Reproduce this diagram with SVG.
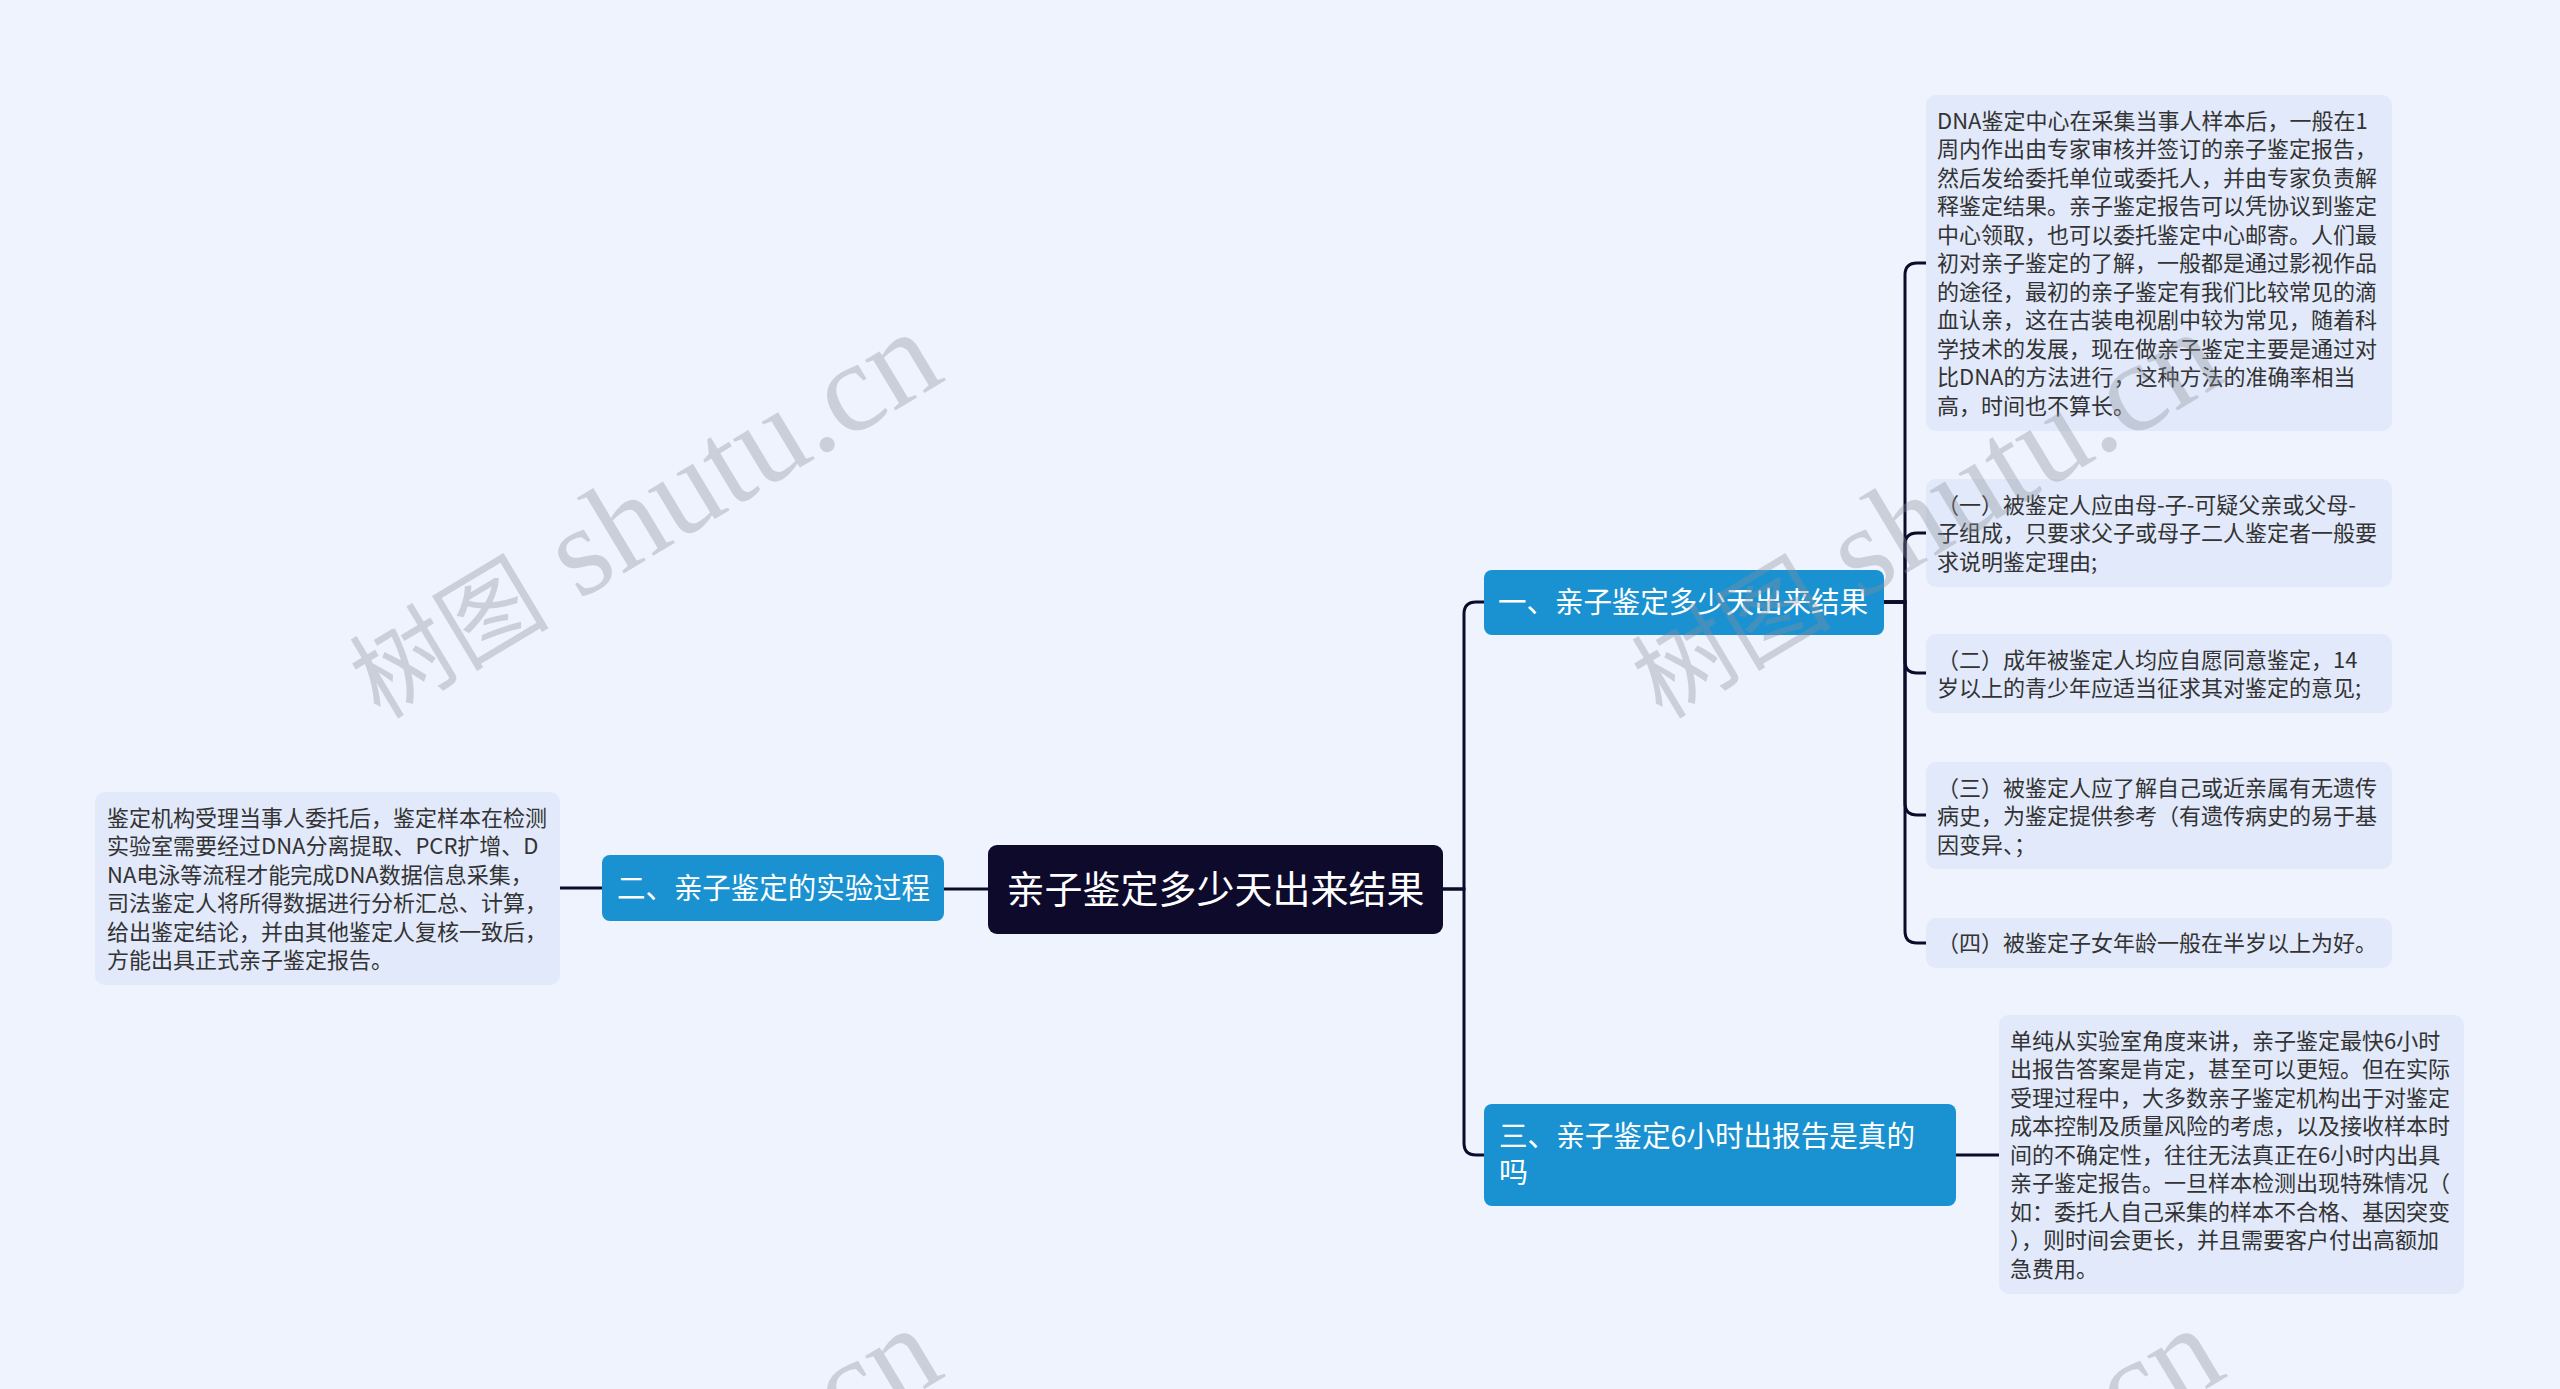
<svg xmlns="http://www.w3.org/2000/svg" width="2560" height="1389" viewBox="0 0 2560 1389">
<style>
.bg{fill:#eef3fe}
.root{fill:#0d0a2c}
.br{fill:#1a92d1}
.leaf{fill:#e1e9fa}
.rt{font-family:"Noto Sans CJK SC","Noto Sans",sans-serif;font-size:38px;fill:#ffffff}
.bt{font-family:"Noto Sans CJK SC","Noto Sans",sans-serif;font-size:29px;fill:#ffffff}
.lt{font-family:"Noto Sans CJK SC","Noto Sans",sans-serif;font-size:22px;fill:#333333}
.con{fill:none;stroke:#0d0b2a;stroke-width:3;stroke-linecap:round}
.wm{font-family:"Liberation Serif","Noto Sans CJK SC",serif;fill:#8a8f99;opacity:0.35}
</style>
<rect class="bg" x="0" y="0" width="2560" height="1389"/>

<g id="connectors">
<path class="con" d="M1443,889 H1464 V614 Q1464,602 1476,602 H1484"/>
<path class="con" d="M1443,889 H1464 V1143 Q1464,1155 1476,1155 H1484"/>
<path class="con" d="M988,889 H944"/>
<path class="con" d="M602,888 H560"/>
<path class="con" d="M1884,602 H1905 V275 Q1905,263 1917,263 H1926"/>
<path class="con" d="M1884,602 H1905 V545 Q1905,533 1917,533 H1926"/>
<path class="con" d="M1884,602 H1905 V661 Q1905,673 1917,673 H1926"/>
<path class="con" d="M1884,602 H1905 V803 Q1905,815 1917,815 H1926"/>
<path class="con" d="M1884,602 H1905 V931 Q1905,943 1917,943 H1926"/>
<path class="con" d="M1956,1155 H1999"/>
</g>

<g id="root">
<rect class="root" x="988" y="845" width="455" height="89" rx="9"/>
<text class="rt" x="1215.5" y="903" text-anchor="middle">亲子鉴定多少天出来结果</text>
</g>

<g id="branch1">
<rect class="br" x="1484" y="570" width="400" height="65" rx="8"/>
<text class="bt" x="1498" y="613" textLength="370" lengthAdjust="spacingAndGlyphs">一、亲子鉴定多少天出来结果</text>
</g>

<g id="branch2">
<rect class="br" x="602" y="855" width="342" height="66" rx="8"/>
<text class="bt" x="617" y="899" textLength="313" lengthAdjust="spacingAndGlyphs">二、亲子鉴定的实验过程</text>
</g>

<g id="branch3">
<rect class="br" x="1484" y="1104" width="472" height="102" rx="8"/>
<text class="bt" x="1499" y="1147" textLength="416" lengthAdjust="spacingAndGlyphs">三、亲子鉴定6小时出报告是真的</text>
<text class="bt" x="1499" y="1183">吗</text>
</g>

<g id="leaf1">
<rect class="leaf" x="1926" y="95" width="466" height="336" rx="10"/>
<text class="lt" x="1937" y="128.5">DNA鉴定中心在采集当事人样本后，一般在1</text>
<text class="lt" x="1937" y="157">周内作出由专家审核并签订的亲子鉴定报告，</text>
<text class="lt" x="1937" y="185.5">然后发给委托单位或委托人，并由专家负责解</text>
<text class="lt" x="1937" y="214">释鉴定结果。亲子鉴定报告可以凭协议到鉴定</text>
<text class="lt" x="1937" y="242.5">中心领取，也可以委托鉴定中心邮寄。人们最</text>
<text class="lt" x="1937" y="271">初对亲子鉴定的了解，一般都是通过影视作品</text>
<text class="lt" x="1937" y="299.5">的途径，最初的亲子鉴定有我们比较常见的滴</text>
<text class="lt" x="1937" y="328">血认亲，这在古装电视剧中较为常见，随着科</text>
<text class="lt" x="1937" y="356.5">学技术的发展，现在做亲子鉴定主要是通过对</text>
<text class="lt" x="1937" y="385">比DNA的方法进行，这种方法的准确率相当</text>
<text class="lt" x="1937" y="413.5">高，时间也不算长。</text>
</g>

<g id="leaf2">
<rect class="leaf" x="1926" y="479" width="466" height="108" rx="10"/>
<text class="lt" x="1937" y="512.5">（一）被鉴定人应由母-子-可疑父亲或父母-</text>
<text class="lt" x="1937" y="541">子组成，只要求父子或母子二人鉴定者一般要</text>
<text class="lt" x="1937" y="569.5">求说明鉴定理由;</text>
</g>

<g id="leaf3">
<rect class="leaf" x="1926" y="634" width="466" height="79" rx="10"/>
<text class="lt" x="1937" y="667.5">（二）成年被鉴定人均应自愿同意鉴定，14</text>
<text class="lt" x="1937" y="696">岁以上的青少年应适当征求其对鉴定的意见;</text>
</g>

<g id="leaf4">
<rect class="leaf" x="1926" y="762" width="466" height="107" rx="10"/>
<text class="lt" x="1937" y="795.5">（三）被鉴定人应了解自己或近亲属有无遗传</text>
<text class="lt" x="1937" y="824">病史，为鉴定提供参考（有遗传病史的易于基</text>
<text class="lt" x="1937" y="852.5">因变异、；</text>
</g>

<g id="leaf5">
<rect class="leaf" x="1926" y="918" width="466" height="50" rx="10"/>
<text class="lt" x="1937" y="951">（四）被鉴定子女年龄一般在半岁以上为好。</text>
</g>

<g id="leaf6">
<rect class="leaf" x="1999" y="1015" width="465" height="279" rx="10"/>
<text class="lt" x="2010" y="1048.5">单纯从实验室角度来讲，亲子鉴定最快6小时</text>
<text class="lt" x="2010" y="1077">出报告答案是肯定，甚至可以更短。但在实际</text>
<text class="lt" x="2010" y="1105.5">受理过程中，大多数亲子鉴定机构出于对鉴定</text>
<text class="lt" x="2010" y="1134">成本控制及质量风险的考虑，以及接收样本时</text>
<text class="lt" x="2010" y="1162.5">间的不确定性，往往无法真正在6小时内出具</text>
<text class="lt" x="2010" y="1191">亲子鉴定报告。一旦样本检测出现特殊情况（</text>
<text class="lt" x="2010" y="1219.5">如：委托人自己采集的样本不合格、基因突变</text>
<text class="lt" x="2010" y="1248">），则时间会更长，并且需要客户付出高额加</text>
<text class="lt" x="2010" y="1276.5">急费用。</text>
</g>

<g id="leaf7">
<rect class="leaf" x="95" y="792" width="465" height="193" rx="10"/>
<text class="lt" x="107" y="825.5">鉴定机构受理当事人委托后，鉴定样本在检测</text>
<text class="lt" x="107" y="854">实验室需要经过DNA分离提取、PCR扩增、D</text>
<text class="lt" x="107" y="882.5">NA电泳等流程才能完成DNA数据信息采集，</text>
<text class="lt" x="107" y="911">司法鉴定人将所得数据进行分析汇总、计算，</text>
<text class="lt" x="107" y="939.5">给出鉴定结论，并由其他鉴定人复核一致后，</text>
<text class="lt" x="107" y="968">方能出具正式亲子鉴定报告。</text>
</g>

<g id="watermarks">
<text class="wm" transform="translate(380,720) rotate(-31)"><tspan font-size="100">树图</tspan><tspan font-size="128"> shutu.cn</tspan></text>
<text class="wm" transform="translate(1662,720) rotate(-31)"><tspan font-size="100">树图</tspan><tspan font-size="128"> shutu.cn</tspan></text>
<text class="wm" transform="translate(380,1716) rotate(-31)"><tspan font-size="100">树图</tspan><tspan font-size="128"> shutu.cn</tspan></text>
<text class="wm" transform="translate(1662,1716) rotate(-31)"><tspan font-size="100">树图</tspan><tspan font-size="128"> shutu.cn</tspan></text>
</g>
</svg>
